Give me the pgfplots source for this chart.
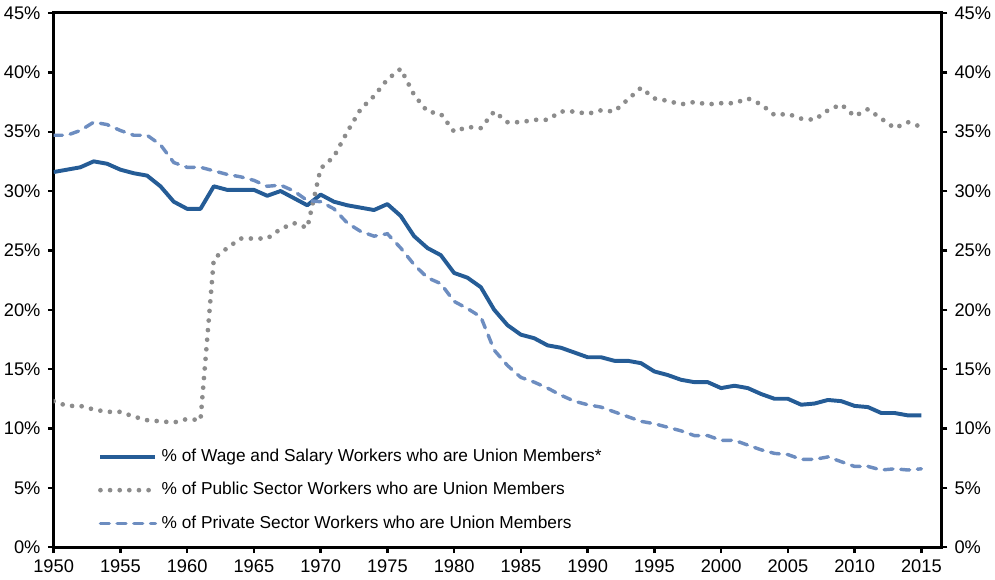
\documentclass[border=0pt]{standalone}
\usepackage{fontspec}
\setmainfont{Liberation Sans}
\usepackage{pgfplots}
\pgfplotsset{compat=1.18}
\definecolor{TotalBlue}{HTML}{255C96}
\definecolor{PrivBlue}{HTML}{6D8DC0}
\definecolor{PubGray}{HTML}{8C8C8C}
\newcommand{\lblfont}{\fontsize{9.3}{11}\selectfont}
\newcommand{\legfont}{\fontsize{8.8}{10.5}\selectfont}

\pgfplotstableread{
year total private public
1950 31.6 34.7 12.3
1951 31.8 34.7 11.9
1952 32.0 35.1 11.9
1953 32.5 35.8 11.6
1954 32.3 35.6 11.4
1955 31.8 35.1 11.4
1956 31.5 34.7 11.0
1957 31.3 34.7 10.7
1958 30.4 33.9 10.6
1959 29.1 32.4 10.5
1960 28.5 32.0 10.8
1961 28.5 32.0 10.7
1962 30.4 31.7 24.3
1963 30.1 31.4 25.2
1964 30.1 31.2 26.0
1965 30.1 30.9 26.0
1966 29.6 30.4 26.0
1967 30.0 30.5 26.8
1968 29.4 30.0 27.3
1969 28.8 29.2 26.9
1970 29.7 29.1 31.9
1971 29.1 28.5 32.9
1972 28.8 27.3 35.0
1973 28.6 26.6 36.9
1974 28.4 26.2 38.0
1975 28.9 26.4 39.4
1976 27.9 25.2 40.3
1977 26.2 23.8 38.1
1978 25.2 22.7 36.7
1979 24.6 22.2 36.5
1980 23.1 20.7 35.0
1981 22.7 20.1 35.4
1982 21.9 19.4 35.3
1983 20.0 16.6 36.7
1984 18.7 15.3 35.8
1985 17.9 14.3 35.8
1986 17.6 13.9 36.0
1987 17.0 13.4 36.0
1988 16.8 12.8 36.7
1989 16.4 12.3 36.7
1990 16.0 12.0 36.5
1991 16.0 11.8 36.8
1992 15.7 11.4 36.7
1993 15.7 11.0 37.7
1994 15.5 10.6 38.7
1995 14.8 10.4 37.8
1996 14.5 10.1 37.6
1997 14.1 9.8 37.3
1998 13.9 9.4 37.5
1999 13.9 9.4 37.3
2000 13.4 9.0 37.4
2001 13.6 9.0 37.4
2002 13.4 8.6 37.8
2003 12.9 8.2 37.3
2004 12.5 7.9 36.4
2005 12.5 7.8 36.5
2006 12.0 7.4 36.1
2007 12.1 7.4 36.0
2008 12.4 7.6 36.8
2009 12.3 7.2 37.3
2010 11.9 6.8 36.3
2011 11.8 6.8 36.9
2012 11.3 6.5 36.1
2013 11.3 6.6 35.3
2014 11.1 6.5 35.8
2015 11.1 6.6 35.4
}\uniondata

\begin{document}
\begin{tikzpicture}
\pgfplotsset{
  uaxis/.style={
    scale only axis,
    width=452pt, height=272pt,
    xmin=1950, xmax=2016.5,
    ymin=0, ymax=45,
    ytick={0,5,...,45},
    tick align=outside,
    major tick length=3pt,
    axis line style={line width=1.5pt},
    every tick/.style={line width=1.2pt, black},
    yticklabel={\pgfmathprintnumber[assume math mode=true]{\tick}\%},
    tick label style={font=\lblfont},
    yticklabel style={inner xsep=2pt},
  }
}
\begin{axis}[
  uaxis,
  xtick={1950,1955,...,2015},
  xticklabel style={/pgf/number format/1000 sep={}, /pgf/number format/assume math mode=true},
  xtick pos=bottom, ytick pos=left,
  yticklabel style={xshift=-1.5pt},
  legend style={draw=none, fill=none, at={(0.043,0.014)}, anchor=south west,
    font=\legfont, row sep=5.2pt, cells={anchor=west}},
  legend cell align=left,
  legend image code/.code={\draw[#1] (0pt,0pt) -- (28pt,0pt);},
]
\addplot[TotalBlue, line width=2pt, line join=round] table[x=year, y=total] {\uniondata};
\addplot[PubGray, line width=2.4pt, line cap=round, dash pattern=on 0pt off 4.9pt] table[x=year, y=public] {\uniondata};
\addplot[PrivBlue, line width=1.75pt, line cap=round, dash pattern=on 4.5pt off 4pt] table[x=year, y=private] {\uniondata};
\legend{\% of Wage and Salary Workers who are Union Members*,
        \% of Public Sector Workers who are Union Members,
        \% of Private Sector Workers who are Union Members}
\end{axis}
\begin{axis}[
  uaxis,
  axis x line=none,
  axis y line*=right,
  yticklabel style={xshift=1.5pt},
]
\end{axis}
\end{tikzpicture}
\end{document}
